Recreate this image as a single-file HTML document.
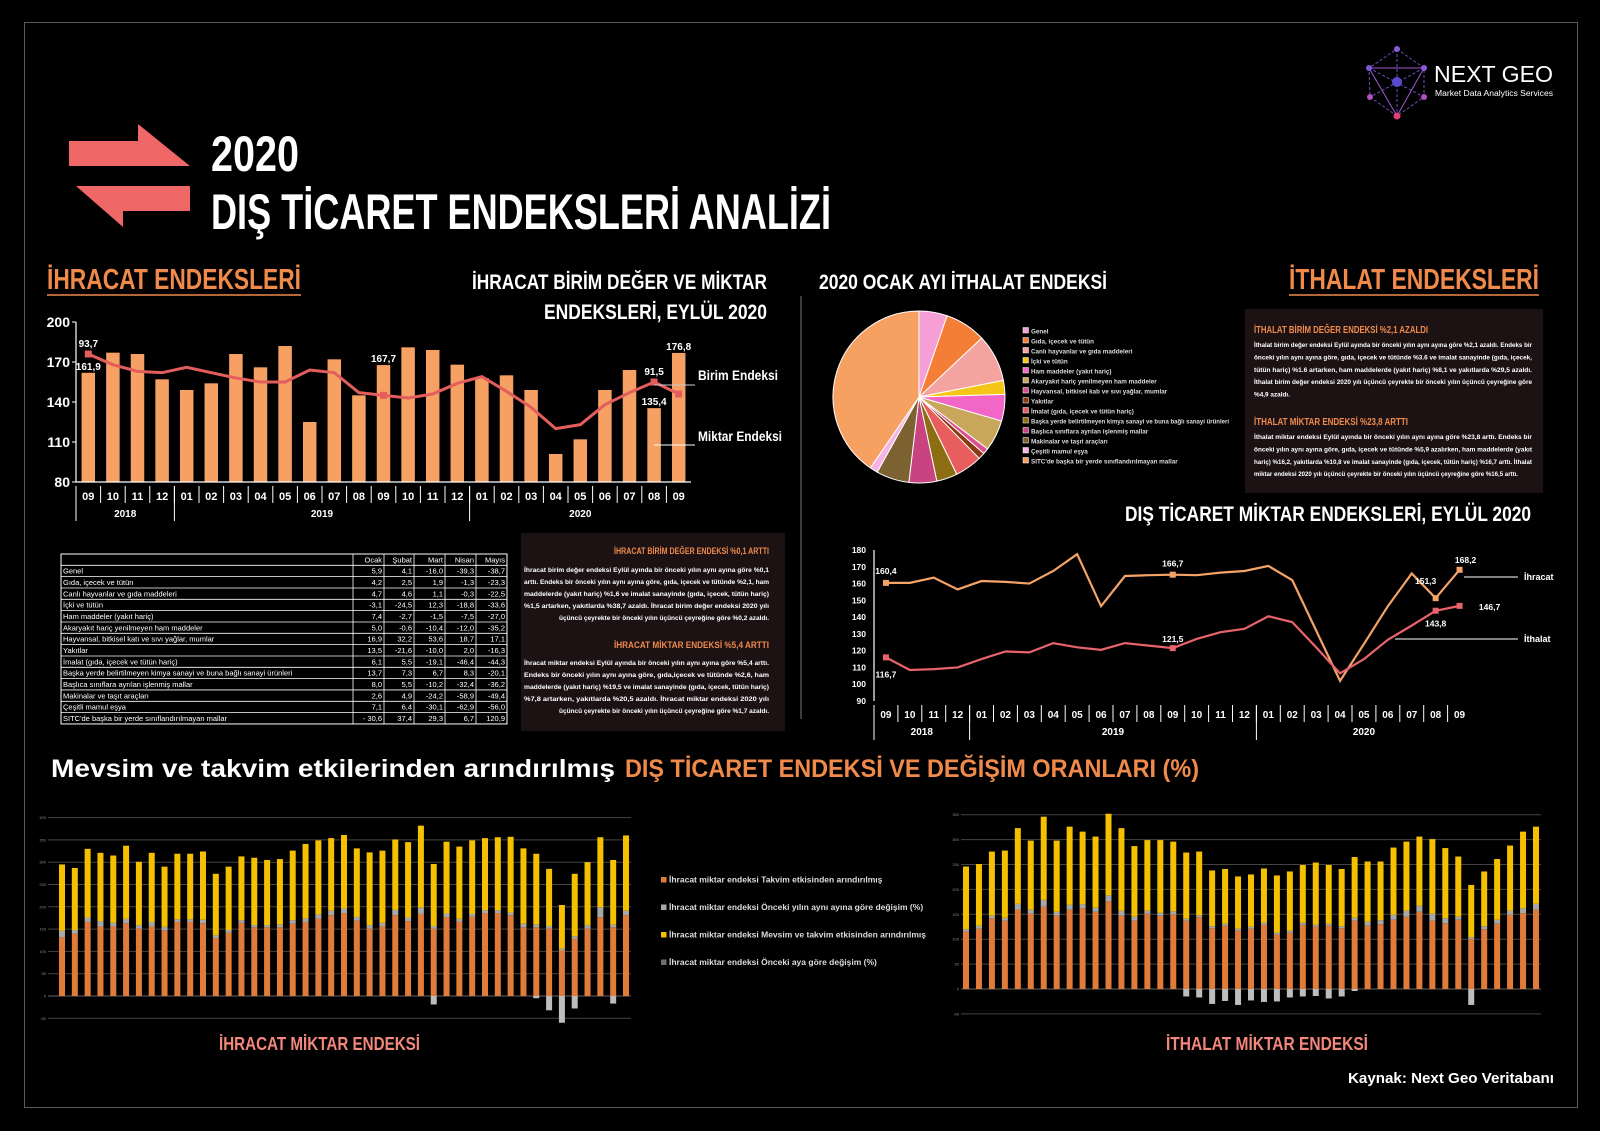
<!DOCTYPE html>
<html><head><meta charset="utf-8">
<style>
body{margin:0;background:#000}
svg{display:block}
text{font-family:"Liberation Sans",sans-serif}
</style></head>
<body>
<svg id="s" width="1600" height="1131" viewBox="0 0 1600 1131" xmlns="http://www.w3.org/2000/svg">
<rect width="1600" height="1131" fill="#000"/>
<rect x="24.5" y="22.5" width="1553" height="1085" fill="none" stroke="#5a5a5a"/>

<!-- title -->
<g fill="#ef6767">
<polygon points="69,141 138,141 138,124 190,166 69,166"/>
<polygon points="190,186 76,186 123,227 123,211 190,211" />
</g>
<text x="211" y="171" font-size="50" font-weight="bold" fill="#fff" textLength="88" lengthAdjust="spacingAndGlyphs">2020</text>
<text x="211" y="229" font-size="50" font-weight="bold" fill="#fff" textLength="620" lengthAdjust="spacingAndGlyphs">DIŞ TİCARET ENDEKSLERİ ANALİZİ</text>

<!-- logo -->
<g>
<g stroke="#6a4fc0" stroke-width="1" fill="none" stroke-dasharray="3,2">
<polygon points="1397,49 1424,68 1424,97 1397,116 1370,97 1369,68"/>
<line x1="1397" y1="49" x2="1397" y2="116"/><line x1="1369" y1="68" x2="1424" y2="97"/><line x1="1424" y1="68" x2="1370" y2="97"/>
</g>
<polyline points="1369,68 1424,68 1397,116 1369,68" fill="none" stroke="#a05ad0" stroke-width="1"/>
<circle cx="1397" cy="49" r="3" fill="#8a5ad8"/><circle cx="1369" cy="68" r="3" fill="#7a5ad8"/><circle cx="1424" cy="68" r="3" fill="#8a5ad8"/>
<circle cx="1370" cy="97" r="3" fill="#b050c0"/><circle cx="1424" cy="97" r="3" fill="#b050c0"/><circle cx="1397" cy="116" r="3.5" fill="#e0407a"/>
<circle cx="1397" cy="82" r="5" fill="#5a4ad0"/>
<text x="1434" y="82" font-size="23" fill="#fff" textLength="119" lengthAdjust="spacingAndGlyphs">NEXT GEO</text>
<text x="1435" y="96" font-size="8" fill="#fff" textLength="118" lengthAdjust="spacingAndGlyphs">Market Data Analytics Services</text>
</g>

<!-- section headings -->
<text x="47" y="289" font-size="29" font-weight="bold" fill="#f08a4b" textLength="254" lengthAdjust="spacingAndGlyphs">İHRACAT ENDEKSLERİ</text>
<line x1="47" y1="295" x2="301" y2="295" stroke="#f08a4b" stroke-width="1.5"/>
<text x="767" y="289" font-size="21" font-weight="bold" fill="#fff" text-anchor="end" textLength="295" lengthAdjust="spacingAndGlyphs">İHRACAT BİRİM DEĞER VE MİKTAR</text>
<text x="767" y="319" font-size="21" font-weight="bold" fill="#fff" text-anchor="end" textLength="223" lengthAdjust="spacingAndGlyphs">ENDEKSLERİ, EYLÜL 2020</text>
<text x="819" y="289" font-size="21" font-weight="bold" fill="#fff" textLength="288" lengthAdjust="spacingAndGlyphs">2020 OCAK AYI İTHALAT ENDEKSİ</text>
<text x="1539" y="289" font-size="29" font-weight="bold" fill="#f08a4b" text-anchor="end" textLength="250" lengthAdjust="spacingAndGlyphs">İTHALAT ENDEKSLERİ</text>
<line x1="1289" y1="295" x2="1539" y2="295" stroke="#f08a4b" stroke-width="1.5"/>
<line x1="801" y1="296" x2="801" y2="719" stroke="#777" stroke-width="1"/>
<text x="1531" y="521" font-size="21" font-weight="bold" fill="#fff" text-anchor="end" textLength="406" lengthAdjust="spacingAndGlyphs">DIŞ TİCARET MİKTAR ENDEKSLERİ, EYLÜL 2020</text>

<!-- text boxes -->
<rect x="521" y="533" width="264" height="198" fill="#1c1214"/>
<rect x="1245" y="309" width="298" height="184" fill="#1c1214"/>

<g id="g-export-text"></g>
<g id="g-import-text"></g>

<text x="51" y="777" font-size="25" font-weight="bold" fill="#fff" textLength="564" lengthAdjust="spacingAndGlyphs">Mevsim ve takvim etkilerinden arındırılmış</text>
<text x="625" y="777" font-size="25" font-weight="bold" fill="#f08a4b" textLength="574" lengthAdjust="spacingAndGlyphs">DIŞ TİCARET ENDEKSİ VE DEĞİŞİM ORANLARI (%)</text>

<text x="219" y="1050" font-size="18" font-weight="bold" fill="#f4877b" textLength="201" lengthAdjust="spacingAndGlyphs">İHRACAT MİKTAR ENDEKSİ</text>
<text x="1166" y="1050" font-size="18" font-weight="bold" fill="#f4877b" textLength="202" lengthAdjust="spacingAndGlyphs">İTHALAT MİKTAR ENDEKSİ</text>
<text x="1554" y="1083" font-size="15" font-weight="bold" fill="#fff" text-anchor="end" textLength="206" lengthAdjust="spacingAndGlyphs">Kaynak: Next Geo Veritabanı</text>

<g id="g-bar"></g>
<g id="g-pie"></g>
<g id="g-line"></g>
<g id="g-table"></g>
<g id="g-stack1"></g>
<g id="g-stack2"></g>
<g id="g-legend"></g>
</svg>

<script>
// ---------- data ----------
const months = ['09','10','11','12','01','02','03','04','05','06','07','08','09','10','11','12','01','02','03','04','05','06','07','08','09'];
const yearLabels = ['2018','2019','2020'];
const yearStarts = [0,4,16];
const expMiktar = [161.9,177,176,157,149,154,176,166,182,125,172,145,167.7,181,179,168,158,160,149,101,112,149,164,135.4,176.8];
const expBirim = [176,168,163,162,166,162,158,155,155,164,162,147,145,143,146,154,159,148,136,120,123,138,147,155,146];
const expTicks = [80,110,140,170,200];
const barLabelIdx = [0,12,23,24];
const barLabelText = ['161,9','167,7','135,4','176,8'];
const lineLabelIdx = [0,23];
const lineLabelText = ['93,7','91,5'];

const impIhracat = [160.4,160.4,163.5,156.5,161.5,161,160,167.5,177.5,146.5,164.5,165,165.3,165,166.5,167.5,170.5,162,132,102,124,146.5,166,151.3,168.2];
const impIthalat = [116,108.5,109,110,115,119.5,119,124.5,122,120.5,124.5,123,121.5,127,131,133,140.5,137,122,106.5,115,126.5,135,143.8,146.7];
const qtyTicks = [90,100,110,120,130,140,150,160,170,180];
const markerIdx = [0,12,23,24];
const ihrLabelText = ['160,4','166,7','151,3','168,2'];
const ithLabelText = ['116,7','121,5','143,8','146,7'];

const pieLabels = ['Genel','Gıda, içecek ve tütün','Canlı hayvanlar ve gıda maddeleri','İçki ve tütün','Ham maddeler (yakıt hariç)','Akaryakıt hariç yenilmeyen ham maddeler','Hayvansal, bitkisel kab ve sıvı yağlar, mumlar','Yakıtlar','İmalat (gıda, içecek ve tütün hariç)','Başka yerde belirtilmeyen kimya sanayi ve buna bağlı sanayi ürünleri','Başlıca sınıflara ayrılan işlenmiş mallar','Makinalar ve taşıt araçları','Çeşitli mamul eşya','SITC\'de başka bir yerde sınıflandırılmayan mallar'];
const pieValues = [5.3,7.7,8.9,2.6,5.0,5.8,1.1,1.25,5.1,3.9,5.2,6.2,1.5,40.4];
const pieColors = ['#f59fd6','#f47e36','#f5a3a0','#f5c518','#f266c8','#c9a75a','#d9508f','#8b3a14','#e85d5d','#8c6d12','#c8437f','#7b6230','#f7b3e6','#f6a061'];

const tableCols = ['Ocak','Şubat','Mart','Nisan','Mayıs'];
const tableRows = ['Genel','Gıda, içecek ve tütün','Canlı hayvanlar ve gıda maddeleri','İçki ve tütün','Ham maddeler (yakıt hariç)','Akaryakıt hariç yenilmeyen ham maddeler','Hayvansal, bitkisel katı ve sıvı yağlar, mumlar','Yakıtlar','İmalat (gıda, içecek ve tütün hariç)','Başka yerde belirtilmeyen kimya sanayi ve buna bağlı sanayi ürünleri','Başlıca sınıflara ayrılan işlenmiş mallar','Makinalar ve taşıt araçları','Çeşitli mamul eşya','SITC\'de başka bir yerde sınıflandırılmayan mallar'];
const tableVals = [
['5,9','4,1','-16,0','-39,3','-38,7'],['4,2','2,5','1,9','-1,3','-23,3'],['4,7','4,6','1,1','-0,3','-22,5'],
['-3,1','-24,5','12,3','-18,8','-33,6'],['7,4','-2,7','-1,5','-7,5','-27,0'],['5,0','-0,6','-10,4','-12,0','-35,2'],
['16,9','32,2','53,6','18,7','17,1'],['13,5','-21,6','-10,0','2,0','-16,3'],['6,1','5,5','-19,1','-46,4','-44,3'],
['13,7','7,3','6,7','8,3','-20,1'],['8,0','5,5','-10,2','-32,4','-36,2'],['2,6','4,9','-24,2','-58,9','-49,4'],
['7,1','6,4','-30,1','-62,9','-56,0'],['- 30,6','37,4','29,3','6,7','120,9']];

const s1Orange = [132,140,166,156,156,163,151,156,147,166,166,163,130,142,164,154,154,154,162,166,173,181,186,169,151,156,181,168,184,151,177,167,178,186,186,181,154,154,151,102,128,151,177,154,181];
const s1Total = [295,287,330,321,315,337,301,321,290,319,319,324,274,290,313,310,305,307,326,341,349,354,361,331,322,326,351,345,382,296,346,335,349,354,356,357,331,319,285,204,274,300,356,305,360];
const s1Gray = [14,8,10,12,8,10,8,10,8,6,6,8,6,6,6,5,5,6,8,8,10,10,10,8,8,8,12,8,14,6,8,6,6,6,6,6,8,6,6,4,6,8,22,6,10];
const s1Neg = [0,0,0,0,0,0,0,0,0,0,0,0,0,0,0,0,0,0,0,0,0,0,0,0,0,0,0,0,0,-19,0,0,0,0,0,0,0,-5,-32,-60,-28,0,0,-17,0];
const s1Ticks = [-50,0,50,100,150,200,250,300,350,400];

const s2Orange = [115,121,142,137,159,151,165,147,159,162,155,176,147,137,151,147,150,137,144,122,127,117,121,129,109,113,129,125,127,122,137,127,130,139,145,155,137,132,139,100,120,131,149,152,159];
const s2Total = [246,251,276,278,323,298,346,298,326,316,306,352,323,287,299,299,296,274,276,238,241,226,230,242,228,236,249,254,249,241,265,256,256,284,296,306,301,283,266,209,236,261,288,316,326];
const s2Gray = [5,6,5,6,12,8,14,8,10,8,8,12,10,8,6,6,6,4,4,4,4,4,4,4,4,4,4,4,4,4,6,8,8,10,12,12,14,10,6,4,6,8,8,10,12];
const s2Neg = [0,0,0,0,0,0,0,0,0,0,0,0,0,0,0,0,0,-15,-17,-30,-24,-32,-23,-26,-25,-17,-15,-14,-19,-15,-4,0,0,0,0,0,0,0,0,-32,0,0,0,0,0];
const s2Ticks = [-50,0,50,100,150,200,250,300,350];

const legendLabels = ['İhracat miktar endeksi Takvim etkisinden arındırılmış','İhracat miktar endeksi Önceki yılın aynı ayına göre değişim (%)','İhracat miktar endeksi Mevsim ve takvim etkisinden arındırılmış','İhracat miktar endeksi Önceki aya göre değişim (%)'];
const legendColors = ['#e07b39','#a8a8a8','#f5c000','#6e6e6e'];

const expText1 = ['İhracat birim değer endeksi Eylül ayında bir önceki yılın aynı ayına göre %0,1','arttı. Endeks bir önceki yılın aynı ayına göre, gıda, içecek ve tütünde %2,1, ham','maddelerde (yakıt hariç) %1,6 ve imalat sanayinde (gıda, içecek, tütün hariç)','%1,5 artarken, yakıtlarda %38,7 azaldı. İhracat birim değer endeksi 2020 yılı','üçüncü çeyrekte bir önceki yılın üçüncü çeyreğine göre %0,2 azaldı.'];
const expText2 = ['İhracat miktar endeksi Eylül ayında bir önceki yılın aynı ayına göre %5,4 arttı.','Endeks bir önceki yılın aynı ayına göre, gıda,içecek ve tütünde %2,6, ham','maddelerde (yakıt hariç) %19,5 ve imalat sanayinde (gıda, içecek, tütün hariç)','%7,8 artarken, yakıtlarda %20,5 azaldı. İhracat miktar endeksi 2020 yılı','üçüncü çeyrekte bir önceki yılın üçüncü çeyreğine göre %1,7 azaldı.'];
const impText1 = ['İthalat birim değer endeksi Eylül ayında bir önceki yılın aynı ayına göre %2,1 azaldı. Endeks bir','önceki yılın aynı ayına göre, gıda, içecek ve tütünde %3.6 ve imalat sanayinde (gıda, içecek,','tütün hariç) %1.6 artarken, ham maddelerde (yakıt hariç) %8,1 ve yakıtlarda %29,5 azaldı.','İthalat birim değer endeksi 2020 yılı üçüncü çeyrekte bir önceki yılın üçüncü çeyreğine göre','%4,9 azaldı.'];
const impText2 = ['İthalat miktar endeksi Eylül ayında bir önceki yılın aynı ayına göre %23,8 arttı. Endeks bir','önceki yılın aynı ayına göre, gıda, içecek ve tütünde %5,9 azalırken, ham maddelerde (yakıt','hariç) %16,2, yakıtlarda %10,8 ve imalat sanayinde (gıda, içecek, tütün hariç) %16,7 arttı. İthalat','miktar endeksi 2020 yılı üçüncü çeyrekte bir önceki yılın üçüncü çeyreğine göre %16,5 arttı.'];

// ---------- helpers ----------
const NS = 'http://www.w3.org/2000/svg';
function el(tag, attrs, parent, txt) {
  const e = document.createElementNS(NS, tag);
  for (const k in attrs) e.setAttribute(k, attrs[k]);
  if (txt != null) e.textContent = txt;
  parent.appendChild(e);
  return e;
}
const $ = id => document.getElementById(id);

// ---------- chart 1: export bars + line ----------
(function(){
  const g = $('g-bar');
  const L = 76, band = 24.6, bw = 13.5;
  const y = v => 482 - (v - 80) * 160 / 120;
  const cx = i => L + (i + 0.5) * band;
  const R = L + months.length * band;
  expTicks.forEach(t => {
    const tl = el('text', {x:70, y:y(t)+5, 'font-size':14, 'font-weight':'bold', fill:'#fff', 'text-anchor':'end'}, g, String(t));
    
    
    const tk = el('line', {x1:L-4, x2:L, y1:y(t), y2:y(t), stroke:'#fff'}, g);
    
    
  });
  expMiktar.forEach((v,i) => {
    const b = el('rect', {x:cx(i)-bw/2, y:y(v), width:bw, height:482-y(v), fill:'#f6a064'}, g);
    
    
  });
  const ax = el('path', {d:`M${L},322V482H${R}`, stroke:'#fff', fill:'none', 'stroke-width':1.2}, g);
  
  
  const pl = el('polyline', {points: expBirim.map((v,i)=>cx(i)+','+y(v)).join(' '), fill:'none', stroke:'#e35d5d', 'stroke-width':3}, g);
  
  
  [0,12,23,24].forEach(i => {
    const m = el('rect', {x:cx(i)-3.5, y:y(expBirim[i])-3.5, width:7, height:7, fill:'#e35d5d'}, g);
    
    
  });
  months.forEach((m,i) => {
    const t = el('text', {x:cx(i), y:500, 'font-size':11, 'font-weight':'bold', fill:'#fff', 'text-anchor':'middle'}, g, m);
    
    
    const sp = el('line', {x1:L+i*band, x2:L+i*band, y1:486, y2:503, stroke:'#fff'}, g);
    
    
  });
  yearLabels.forEach((yl,k) => {
    const s = yearStarts[k], e = k < yearStarts.length-1 ? yearStarts[k+1] : months.length;
    const t = el('text', {x:L+(s+e)/2*band, y:517, 'font-size':10, 'font-weight':'bold', fill:'#fff', 'text-anchor':'middle'}, g, yl);
    
    
    const sp = el('line', {x1:L+s*band, x2:L+s*band, y1:486, y2:521, stroke:'#fff'}, g);
    
    
  });
  barLabelIdx.forEach((i,k) => {
    const t = el('text', {x:cx(i), y:y(expMiktar[i])-3, 'font-size':10, 'font-weight':'bold', fill:'#fff', 'text-anchor':'middle'}, g, barLabelText[k]);
    
    
  });
  lineLabelIdx.forEach((i,k) => {
    const t = el('text', {x:cx(i), y:y(expBirim[i])-7, 'font-size':10, 'font-weight':'bold', fill:'#fff', 'text-anchor':'middle'}, g, lineLabelText[k]);
    
    
  });
  const l1 = el('line', {x1:654, x2:695, y1:385, y2:385, stroke:'#ccc'}, g);
  
  
  const t1 = el('text', {x:698, y:380, 'font-size':14, 'font-weight':'bold', fill:'#fff', textLength:80, lengthAdjust:'spacingAndGlyphs'}, g, 'Birim Endeksi');
  
  
  const l2 = el('line', {x1:654, x2:695, y1:445, y2:445, stroke:'#fff'}, g);
  
  
  const t2 = el('text', {x:698, y:441, 'font-size':14, 'font-weight':'bold', fill:'#fff', textLength:84, lengthAdjust:'spacingAndGlyphs'}, g, 'Miktar Endeksi');
  
  
})();

// ---------- pie ----------
(function(){
  const g = $('g-pie');
  const cx = 919, cy = 397, r = 86;
  const tot = pieValues.reduce((a,b)=>a+b,0);
  let a0 = 0;
  pieValues.forEach((v,i) => {
    const a1 = a0 + v/tot*Math.PI*2;
    const x0 = cx + r*Math.sin(a0), y0 = cy - r*Math.cos(a0);
    const x1 = cx + r*Math.sin(a1), y1 = cy - r*Math.cos(a1);
    const large = (a1-a0) > Math.PI ? 1 : 0;
    const p = el('path', {d:`M${cx},${cy}L${x0},${y0}A${r},${r} 0 ${large} 1 ${x1},${y1}Z`, fill:pieColors[i], stroke:'#fff', 'stroke-width':1}, g);
    
    
    a0 = a1;
  });
  pieLabels.forEach((lb,i) => {
    const yy = 331 + i*10;
    const sq = el('rect', {x:1023, y:yy-3.5, width:5.5, height:5.5, fill:pieColors[i], stroke:'#fff', 'stroke-width':0.5}, g);
    
    
    const attrs = {x:1031, y:yy+2.5, 'font-size':6.3, 'font-weight':'bold', fill:'#ddd'};
    if (lb.length > 60) { attrs.textLength = 198; attrs.lengthAdjust = 'spacingAndGlyphs'; }
    const t = el('text', attrs, g, lb);
    
    
  });
})();

// ---------- line chart ----------
(function(){
  const g = $('g-line');
  const L = 874, band = 23.9;
  const y = v => 701 - (v-90)*151/90;
  const cx = i => L + (i+0.5)*band;
  qtyTicks.forEach(t => {
    const tl = el('text', {x:866, y:y(t)+3, 'font-size':8.5, 'font-weight':'bold', fill:'#fff', 'text-anchor':'end'}, g, String(t));
    
    
  });
  const ax = el('line', {x1:L, x2:L, y1:550, y2:701, stroke:'#fff', 'stroke-width':1.2}, g);
  
  
  const p1 = el('polyline', {points: impIhracat.map((v,i)=>cx(i)+','+y(v)).join(' '), fill:'none', stroke:'#f5a468', 'stroke-width':2.2}, g);
  
  
  const p2 = el('polyline', {points: impIthalat.map((v,i)=>cx(i)+','+y(v)).join(' '), fill:'none', stroke:'#e8636a', 'stroke-width':2.2}, g);
  
  
  const ihrOff = [[0,-9],[0,-8],[-10,-14],[6,-7]];
  const ithOff = [[0,20],[0,-6],[0,16],[30,4]];
  markerIdx.forEach((i,k) => {
    const m1 = el('rect', {x:cx(i)-3, y:y(impIhracat[i])-3, width:6, height:6, fill:'#f5a468'}, g);
    
    
    const m2 = el('rect', {x:cx(i)-3, y:y(impIthalat[i])-3, width:6, height:6, fill:'#e8636a'}, g);
    
    
    const t1 = el('text', {x:cx(i)+ihrOff[k][0], y:y(impIhracat[i])+ihrOff[k][1], 'font-size':8.5, 'font-weight':'bold', fill:'#fff', 'text-anchor':'middle'}, g, ihrLabelText[k]);
    
    
    const t2 = el('text', {x:cx(i)+ithOff[k][0], y:y(impIthalat[i])+ithOff[k][1], 'font-size':8.5, 'font-weight':'bold', fill:'#fff', 'text-anchor':'middle'}, g, ithLabelText[k]);
    
    
  });
  months.forEach((m,i) => {
    const t = el('text', {x:cx(i), y:718, 'font-size':10, 'font-weight':'bold', fill:'#fff', 'text-anchor':'middle'}, g, m);
    
    
    const sp = el('line', {x1:L+i*band, x2:L+i*band, y1:705, y2:722, stroke:'#fff'}, g);
    
    
  });
  yearLabels.forEach((yl,k) => {
    const s = yearStarts[k], e = k < yearStarts.length-1 ? yearStarts[k+1] : months.length;
    const t = el('text', {x:L+(s+e)/2*band, y:735, 'font-size':10, 'font-weight':'bold', fill:'#fff', 'text-anchor':'middle'}, g, yl);
    
    
    const sp = el('line', {x1:L+s*band, x2:L+s*band, y1:705, y2:740, stroke:'#fff'}, g);
    
    
  });
  const l1 = el('line', {x1:1464, x2:1518, y1:577, y2:577, stroke:'#fff'}, g);
  
  
  const t1 = el('text', {x:1524, y:580, 'font-size':9, 'font-weight':'bold', fill:'#fff'}, g, 'İhracat');
  
  
  const l2 = el('line', {x1:1395, x2:1518, y1:639, y2:639, stroke:'#fff'}, g);
  
  
  const t2 = el('text', {x:1524, y:642, 'font-size':9, 'font-weight':'bold', fill:'#fff'}, g, 'İthalat');
  
  
})();

// ---------- table ----------
(function(){
  const g = $('g-table');
  const x0 = 61, x1 = 507, top = 554, rh = 11.33;
  const colX = [353,384,414,445,476,507];
  const n = tableRows.length + 1;
  const fr = el('rect', {x:x0, y:top, width:x1-x0, height:n*rh, fill:'none', stroke:'#fff', 'stroke-width':1}, g);
  
  
  for (let r = 1; r < n; r++) {
    const ln = el('line', {x1:x0, x2:x1, y1:top+r*rh, y2:top+r*rh, stroke:'#fff', 'stroke-width':0.8}, g);
    
    
  }
  colX.slice(0,5).forEach(cxv => {
    const ln = el('line', {x1:cxv, x2:cxv, y1:top, y2:top+n*rh, stroke:'#fff', 'stroke-width':0.8}, g);
    
    
  });
  tableCols.forEach((c,j) => {
    const t = el('text', {x:colX[j+1]-2, y:top+rh-3, 'font-size':7.5, fill:'#fff', 'text-anchor':'end'}, g, c);
    
    
  });
  tableRows.forEach((lb,r) => {
    const yy = top + (r+2)*rh - 3;
    const t = el('text', {x:x0+2, y:yy, 'font-size':7.5, fill:'#fff'}, g, lb);
    
    
    tableVals[r].forEach((v,j) => {
      const tv = el('text', {x:colX[j+1]-2, y:yy, 'font-size':7.5, fill:'#fff', 'text-anchor':'end'}, g, v);
      
      
    });
  });
})();

// ---------- commentary ----------
(function(){
  const g = $('g-export-text');
  const h1 = el('text', {x:769, y:554, 'font-size':9.5, 'font-weight':'bold', fill:'#f08a4b', 'text-anchor':'end', textLength:155, lengthAdjust:'spacingAndGlyphs'}, g, 'İHRACAT BİRİM DEĞER ENDEKSİ %0,1 ARTTI');
  
  
  expText1.forEach((ln,i) => {
    const last = i === expText1.length-1;
    const t = el('text', {x:769, y:572+i*12, 'font-size':6.8, 'font-weight':'bold', fill:'#fff', 'text-anchor':'end', textLength: last?210:245, lengthAdjust:'spacingAndGlyphs'}, g, ln);
    
    
  });
  const h2 = el('text', {x:769, y:648, 'font-size':9.5, 'font-weight':'bold', fill:'#f08a4b', 'text-anchor':'end', textLength:155, lengthAdjust:'spacingAndGlyphs'}, g, 'İHRACAT MİKTAR ENDEKSİ %5,4 ARTTI');
  
  
  expText2.forEach((ln,i) => {
    const last = i === expText2.length-1;
    const t = el('text', {x:769, y:665+i*12, 'font-size':6.8, 'font-weight':'bold', fill:'#fff', 'text-anchor':'end', textLength: last?210:245, lengthAdjust:'spacingAndGlyphs'}, g, ln);
    
    
  });
  const g2 = $('g-import-text');
  const h3 = el('text', {x:1254, y:333, 'font-size':10, 'font-weight':'bold', fill:'#f08a4b', textLength:174, lengthAdjust:'spacingAndGlyphs'}, g2, 'İTHALAT BİRİM DEĞER ENDEKSİ %2,1 AZALDI');
  
  
  const w1 = [278,278,278,278,36];
  impText1.forEach((ln,i) => {
    const t = el('text', {x:1254, y:347+i*12.4, 'font-size':6.8, 'font-weight':'bold', fill:'#fff', textLength:w1[i], lengthAdjust:'spacingAndGlyphs'}, g2, ln);
    
    
  });
  const h4 = el('text', {x:1254, y:425, 'font-size':10, 'font-weight':'bold', fill:'#f08a4b', textLength:154, lengthAdjust:'spacingAndGlyphs'}, g2, 'İTHALAT MİKTAR ENDEKSİ %23,8 ARTTI');
  
  
  const w2 = [278,278,278,264];
  impText2.forEach((ln,i) => {
    const t = el('text', {x:1254, y:439+i*12.4, 'font-size':6.8, 'font-weight':'bold', fill:'#fff', textLength:w2[i], lengthAdjust:'spacingAndGlyphs'}, g2, ln);
    
    
  });
})();

// ---------- stacked charts ----------
function stacked(g, orange, total, gray, neg, ticks, x0, x1, first, last, zero, perUnit) {
  const n = orange.length;
  const band = (last - first) / (n - 1);
  const bw = 6;
  const y = v => zero - v * perUnit;
  ticks.forEach(t => {
    const gl = el('line', {x1:x0, x2:x1, y1:y(t), y2:y(t), stroke:t===0?'#666':'#444', 'stroke-width':1}, g);
    
    
    const tl = el('text', {x:x0-2, y:y(t)+1.5, 'font-size':4, fill:'#888', 'text-anchor':'end'}, g, String(t));
    
    
  });
  for (let i = 0; i < n; i++) {
    const cx = first + i * band;
    const o = el('rect', {x:cx-bw/2, y:y(orange[i]), width:bw, height:orange[i]*perUnit, fill:'#e07b39'}, g);
    
    
    const gr = el('rect', {x:cx-bw/2, y:y(orange[i]+gray[i]), width:bw, height:gray[i]*perUnit, fill:'#a8a8a8'}, g);
    
    
    const yl = total[i] - orange[i] - gray[i];
    const ye = el('rect', {x:cx-bw/2, y:y(total[i]), width:bw, height:yl*perUnit, fill:'#f5c000'}, g);
    
    
    if (neg[i] < 0) {
      const ng = el('rect', {x:cx-bw/2, y:zero, width:bw, height:-neg[i]*perUnit, fill:'#bdbdbd'}, g);
      
      
    }
  }
}
stacked($('g-stack1'), s1Orange, s1Total, s1Gray, s1Neg, s1Ticks, 48, 631, 62, 626, 996, 22.3/50);
stacked($('g-stack2'), s2Orange, s2Total, s2Gray, s2Neg, s2Ticks, 961, 1541, 966, 1536, 989, 24.9/50);

// ---------- legend ----------
(function(){
  const g = $('g-legend');
  legendLabels.forEach((lb,i) => {
    const yy = 880 + i*27.5;
    const sq = el('rect', {x:661, y:yy-3, width:5.5, height:5.5, fill:legendColors[i]}, g);
    
    
    const t = el('text', {x:669, y:yy+2.5, 'font-size':8.5, 'font-weight':'bold', fill:'#ddd'}, g, lb);
    
    
  });
})();
</script>
</body></html>
